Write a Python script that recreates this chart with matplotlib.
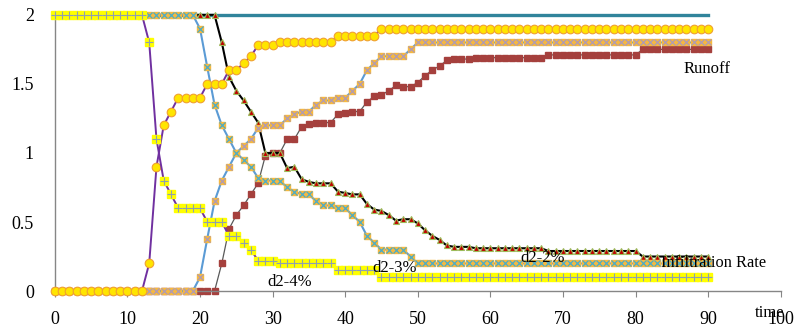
import matplotlib
matplotlib.use('Agg')
from matplotlib import pyplot as plt
import numpy as np

t = list(range(91))
rain = [2.0] * 91

# d2-4%
infil_4 = [2.0] * 13 + [1.8, 1.1, 0.8, 0.7] + [0.6] * 4 + [0.5] * 3 + [0.4] * 2 + [0.35, 0.3] \
    + [0.22] * 3 + [0.2] * 8 + [0.15] * 6 + [0.1] * 46
runoff_4 = [0.0] * 13 + [0.2, 0.9, 1.2, 1.3] + [1.4] * 4 + [1.5] * 3 + [1.6] * 2 + [1.65, 1.7] \
    + [1.78] * 3 + [1.8] * 8 + [1.85] * 6 + [1.9] * 46

# d2-3%
infil_3 = [2.0] * 20 + [1.9, 1.62, 1.35, 1.2, 1.1, 1.0, 0.95, 0.9, 0.82] + [0.8] * 3 \
    + [0.75, 0.72, 0.7, 0.7, 0.65, 0.62, 0.62, 0.6, 0.6, 0.55, 0.5, 0.4, 0.35] + [0.3] * 4 + [0.25] + [0.2] * 41
runoff_3 = [0.0] * 20 + [0.1, 0.38, 0.65, 0.8, 0.9, 1.0, 1.05, 1.1, 1.18] + [1.2] * 3 \
    + [1.25, 1.28, 1.3, 1.3, 1.35, 1.38, 1.38, 1.4, 1.4, 1.45, 1.5, 1.6, 1.65] + [1.7] * 4 + [1.75] + [1.8] * 41

# d2-2%
infil_2 = [2.0] * 23 + [1.8, 1.55, 1.45, 1.38, 1.3, 1.22] + [1.0] * 3 \
    + [0.89, 0.9, 0.81, 0.79, 0.78, 0.78, 0.78, 0.72, 0.71, 0.7, 0.7, 0.63, 0.59, 0.58, 0.55, 0.51, 0.52,
       0.52, 0.49, 0.44, 0.4, 0.37, 0.33, 0.32, 0.32, 0.32] + [0.31] * 10 + [0.29] * 13 + [0.25] * 10
runoff_2 = [0.0] * 23 + [0.2, 0.45, 0.55, 0.62, 0.7, 0.78] + [0.98, 1.0, 1.0] \
    + [1.1, 1.1, 1.19, 1.21, 1.22, 1.22, 1.22, 1.28, 1.29, 1.3, 1.3, 1.37, 1.41, 1.42, 1.45, 1.49, 1.48,
       1.48, 1.51, 1.56, 1.6, 1.63, 1.67, 1.68, 1.68, 1.68] + [1.69] * 10 + [1.71] * 13 + [1.75] * 10

xticks = [0, 10, 20, 30, 40, 50, 60, 70, 80, 90, 100]
yticks = [0, 0.5, 1, 1.5, 2]

plt.rcParams['font.family'] = ['Liberation Serif', 'DejaVu Serif']

fig = plt.figure(figsize=(7.95, 3.3), dpi=100)
ax = fig.add_axes([0.069, 0.118, 0.913, 0.837])

ax.plot(t, rain, color='#31849B', lw=2.4, zorder=1, clip_on=False)

# d2-2%
ax.plot(t, runoff_2, color='#595959', lw=0.9, marker='s', ms=4.8, mfc='#A5403D', mec='#A5403D',
        zorder=2, clip_on=False)
ax.plot(t, infil_2, color='black', lw=1.5, marker='^', ms=4.8, mfc='#C00000', mec='#9BBB59', mew=0.8,
        zorder=2, clip_on=False)

# d2-3%
ax.plot(t, runoff_3, color='#5B9BD5', lw=1.5, marker='s', ms=4.8, mfc='#F5B840', mec='#F5B840',
        zorder=3, clip_on=False)
ax.plot(t, runoff_3, ls='none', marker='x', ms=4.5, mec='#A898C0', mew=0.8, zorder=3, clip_on=False)
ax.plot(t, infil_3, color='#5B9BD5', lw=1.5, marker='s', ms=4.8, mfc='#F5B840', mec='#F5B840',
        zorder=3, clip_on=False)
ax.plot(t, infil_3, ls='none', marker='x', ms=4.5, mec='#4BACC6', mew=0.9, zorder=3, clip_on=False)

# d2-4%
ax.plot(t, runoff_4, color='#7030A0', lw=1.4, marker='o', ms=6.2, mfc='#FFE500', mec='#F0A030', mew=0.8,
        zorder=4, clip_on=False)
ax.plot(t, infil_4, color='#7030A0', lw=1.4, marker='s', ms=5.2, mfc='#FFFF00', mec='#FFFF00',
        zorder=4, clip_on=False)
ax.plot(t, infil_4, ls='none', marker='+', ms=5.5, mec='#8EA0B0', mew=0.8, zorder=4, clip_on=False)

ax.text(86.6, 1.61, 'Runoff', fontsize=12, va='center', ha='left')
ax.text(83.5, 0.2, 'Infiltration Rate', fontsize=11.8, va='center', ha='left', zorder=6)
ax.text(64.2, 0.24, 'd2-2%', fontsize=12, va='center', ha='left', zorder=6)
ax.text(43.7, 0.165, 'd2-3%', fontsize=12, va='center', ha='left', zorder=6)
ax.text(29.3, 0.067, 'd2-4%', fontsize=12, va='center', ha='left', zorder=6)
ax.text(96.4, -0.16, 'time', fontsize=12, va='center', ha='left', clip_on=False)

ax.set_xlim(0, 100)
ax.set_ylim(0, 2)
ax.set_xticks(xticks)
ax.set_yticks(yticks)
ax.set_yticklabels(['0', '0.5', '1', '1.5', '2'])
for s in ['top', 'right']:
    ax.spines[s].set_visible(False)
for s in ['left', 'bottom']:
    ax.spines[s].set_color('#868686')
    ax.spines[s].set_linewidth(1)
ax.tick_params(axis='x', direction='out', length=4, color='#868686', pad=10.5, labelsize=13)
ax.tick_params(axis='y', length=0, pad=15, labelsize=13)

plt.savefig('out.png', dpi=100)
